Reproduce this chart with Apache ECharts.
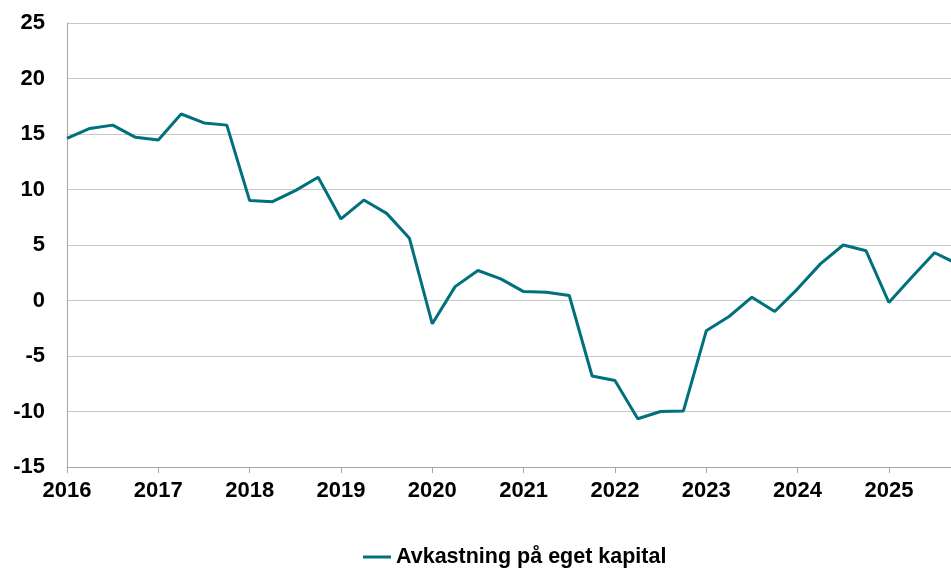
<!DOCTYPE html>
<html>
<head>
<meta charset="utf-8">
<script src="https://cdn.jsdelivr.net/npm/echarts@6/dist/echarts.min.js"></script>
<style>
  html, body { margin: 0; padding: 0; background: #fff; }
  #chart { width: 951px; height: 572px; }
</style>
</head>
<body>
<div id="chart"></div>
<script>
var chart = echarts.init(document.getElementById('chart'));

// kvartaler, 2016K1 - 2025K4
var quarters = [
    '2016K1', '2016K2', '2016K3', '2016K4',
    '2017K1', '2017K2', '2017K3', '2017K4',
    '2018K1', '2018K2', '2018K3', '2018K4',
    '2019K1', '2019K2', '2019K3', '2019K4',
    '2020K1', '2020K2', '2020K3', '2020K4',
    '2021K1', '2021K2', '2021K3', '2021K4',
    '2022K1', '2022K2', '2022K3', '2022K4',
    '2023K1', '2023K2', '2023K3', '2023K4',
    '2024K1', '2024K2', '2024K3', '2024K4',
    '2025K1', '2025K2', '2025K3', '2025K4'
];
var roe = [
    14.6, 15.5, 15.8, 14.7,
    14.45, 16.8, 16.0, 15.8,
    9.0, 8.9, 9.9, 11.1,
    7.35, 9.05, 7.85, 5.6,
    -2.1, 1.25, 2.7, 1.95,
    0.8, 0.75, 0.45, -6.8,
    -7.2, -10.65, -10.0, -9.95,
    -2.73, -1.44, 0.3, -0.99,
    1.05, 3.3, 5.0, 4.48,
    -0.18, 2.1, 4.3, 3.3
];
var seriesName = 'Avkastning på eget kapital';

var yMin = -15, yMax = 25, yStep = 5;
var xMin = 2016, xMax = 2025.68;

var points = quarters.map(function (q, i) {
    var yr = parseInt(q.slice(0, 4), 10);
    var k = parseInt(q.slice(5), 10);
    return [yr + (k - 1) / 4, roe[i]];
});

var font = 'Liberation Sans, Arial, Helvetica, sans-serif';
var teal = '#00707d';

option = {
    animation: false,
    backgroundColor: '#fff',
    grid: {
        left: 67,
        right: 0,
        top: 23,
        bottom: 105
    },
    legend: {
        left: 358,
        top: 541,
        icon: 'rect',
        itemWidth: 28,
        itemHeight: 3,
        textStyle: {
            fontFamily: font,
            fontWeight: 'bold',
            fontSize: 21.5,
            color: '#000'
        },
        data: [seriesName]
    },
    xAxis: {
        type: 'value',
        min: xMin,
        max: xMax,
        interval: 1,
        axisLine: { show: true, onZero: false, lineStyle: { color: '#a6a6a6', width: 1 } },
        axisTick: { show: true, length: 6, lineStyle: { color: '#a6a6a6' } },
        splitLine: { show: false },
        axisLabel: {
            showMaxLabel: false,
            margin: 13,
            fontFamily: font,
            fontWeight: 'bold',
            fontSize: 22,
            color: '#000',
            formatter: function (v) { return String(v); }
        }
    },
    yAxis: {
        type: 'value',
        min: yMin,
        max: yMax,
        interval: yStep,
        axisLine: { show: true, lineStyle: { color: '#a6a6a6', width: 1 } },
        axisTick: { show: false },
        splitLine: { show: true, lineStyle: { color: '#c8c8c8', width: 1 } },
        axisLabel: {
            margin: 22,
            fontFamily: font,
            fontWeight: 'bold',
            fontSize: 22,
            color: '#000'
        }
    },
    series: [{
        name: seriesName,
        type: 'line',
        data: points,
        symbol: 'none',
        clip: true,
        color: teal,
        lineStyle: { color: teal, width: 3 }
    }]
};
chart.setOption(option);
</script>
</body>
</html>
